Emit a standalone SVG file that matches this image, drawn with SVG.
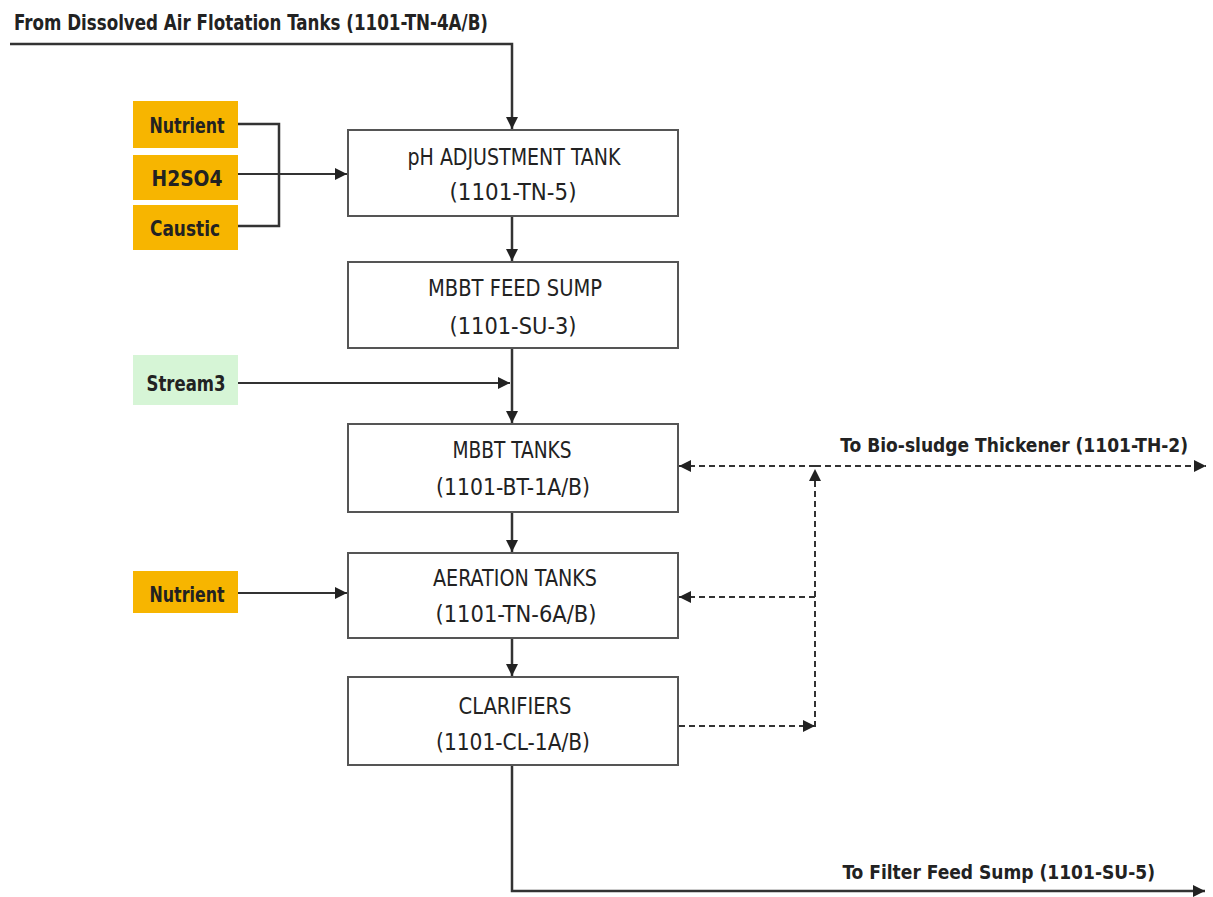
<svg xmlns="http://www.w3.org/2000/svg" width="1213" height="897" viewBox="0 0 1213 897">
<style>
text{font-family:"DejaVu Sans Condensed","DejaVu Sans","Liberation Sans",sans-serif;fill:#222;}
.t{font-size:23px;text-anchor:middle;}
.s{font-size:22px;font-weight:bold;text-anchor:middle;}
.box{fill:#fff;stroke:#555;stroke-width:2;}
.org{fill:#f7b500;}
.grn{fill:#d6f5d6;}
.ln{fill:none;stroke:#333;stroke-width:2.5;}
.thin{fill:none;stroke:#333;stroke-width:2;}
.dash{fill:none;stroke:#333;stroke-width:2;stroke-dasharray:6 4;}
.lbl{font-size:22px;font-weight:bold;}
.rl{font-size:19px;font-weight:bold;text-anchor:end;}
</style>
<defs>
<marker id="ah" viewBox="0 0 10 10" refX="10" refY="5" markerWidth="5" markerHeight="5" orient="auto" markerUnits="strokeWidth">
<path d="M0,0 L10,5 L0,10 z" fill="#222"/>
</marker>
<marker id="ahs" viewBox="0 0 10 10" refX="10" refY="5" markerWidth="6" markerHeight="6" orient="auto" markerUnits="strokeWidth">
<path d="M0,0 L10,5 L0,10 z" fill="#222"/>
</marker>
</defs>
<rect width="1213" height="897" fill="#fff"/>

<g id="title">
<text class="lbl" x="14" y="30" textLength="474" lengthAdjust="spacingAndGlyphs">From Dissolved Air Flotation Tanks (1101-TN-4A/B)</text>
</g>

<g id="connectors">
<polyline class="ln" points="10,44 512,44 512,129" marker-end="url(#ah)"/>
<polyline class="ln" points="238,124 279,124 279,226 238,226"/>
<line class="thin" x1="238" y1="174" x2="347" y2="174" marker-end="url(#ahs)"/>
<line class="ln" x1="512" y1="216" x2="512" y2="261" marker-end="url(#ah)"/>
<line class="ln" x1="512" y1="348" x2="512" y2="423" marker-end="url(#ah)"/>
<line class="thin" x1="238" y1="383" x2="510" y2="383" marker-end="url(#ahs)"/>
<line class="ln" x1="512" y1="512" x2="512" y2="552" marker-end="url(#ah)"/>
<line class="thin" x1="238" y1="593" x2="347" y2="593" marker-end="url(#ahs)"/>
<line class="ln" x1="512" y1="638" x2="512" y2="676" marker-end="url(#ah)"/>
<polyline class="ln" points="512,765 512,891 1205,891" marker-end="url(#ah)"/>
<line class="dash" x1="815" y1="466" x2="679" y2="466" marker-end="url(#ahs)"/>
<line class="dash" x1="815" y1="466" x2="1206" y2="466" marker-end="url(#ahs)"/>
<line class="dash" x1="815" y1="727" x2="815" y2="469" marker-end="url(#ahs)"/>
<line class="dash" x1="815" y1="597" x2="679" y2="597" marker-end="url(#ahs)"/>
<line class="dash" x1="679" y1="726" x2="815" y2="726" marker-end="url(#ahs)"/>
</g>

<g id="node-nutrient1">
<rect class="org" x="133" y="101" width="105" height="47"/>
<text class="s" x="187" y="133" textLength="75" lengthAdjust="spacingAndGlyphs">Nutrient</text>
</g>
<g id="node-h2so4">
<rect class="org" x="133" y="155" width="105" height="45"/>
<text class="s" x="187" y="186" textLength="71" lengthAdjust="spacingAndGlyphs">H2SO4</text>
</g>
<g id="node-caustic">
<rect class="org" x="133" y="205" width="105" height="45"/>
<text class="s" x="185" y="236" textLength="70" lengthAdjust="spacingAndGlyphs">Caustic</text>
</g>
<g id="node-stream3">
<rect class="grn" x="133" y="355" width="105" height="50"/>
<text class="s" x="186" y="391" textLength="79" lengthAdjust="spacingAndGlyphs">Stream3</text>
</g>
<g id="node-nutrient2">
<rect class="org" x="133" y="571" width="105" height="42"/>
<text class="s" x="187" y="602" textLength="75" lengthAdjust="spacingAndGlyphs">Nutrient</text>
</g>

<g id="node-ph">
<rect class="box" x="348" y="130" width="330" height="86"/>
<text class="t" x="514" y="165" textLength="213" lengthAdjust="spacingAndGlyphs">pH ADJUSTMENT TANK</text>
<text class="t" x="513" y="200" textLength="127" lengthAdjust="spacingAndGlyphs">(1101-TN-5)</text>
</g>
<g id="node-feedsump">
<rect class="box" x="348" y="262" width="330" height="86"/>
<text class="t" x="515" y="296" textLength="174" lengthAdjust="spacingAndGlyphs">MBBT FEED SUMP</text>
<text class="t" x="513" y="334" textLength="127" lengthAdjust="spacingAndGlyphs">(1101-SU-3)</text>
</g>
<g id="node-mbbt">
<rect class="box" x="348" y="424" width="330" height="88"/>
<text class="t" x="512" y="458" textLength="119" lengthAdjust="spacingAndGlyphs">MBBT TANKS</text>
<text class="t" x="513" y="495" textLength="154" lengthAdjust="spacingAndGlyphs">(1101-BT-1A/B)</text>
</g>
<g id="node-aeration">
<rect class="box" x="348" y="553" width="330" height="85"/>
<text class="t" x="515" y="586" textLength="164" lengthAdjust="spacingAndGlyphs">AERATION TANKS</text>
<text class="t" x="516" y="622" textLength="161" lengthAdjust="spacingAndGlyphs">(1101-TN-6A/B)</text>
</g>
<g id="node-clarifiers">
<rect class="box" x="348" y="677" width="330" height="88"/>
<text class="t" x="515" y="714" textLength="113" lengthAdjust="spacingAndGlyphs">CLARIFIERS</text>
<text class="t" x="513" y="750" textLength="154" lengthAdjust="spacingAndGlyphs">(1101-CL-1A/B)</text>
</g>

<g id="labels">
<text class="rl" x="1188" y="452">To Bio-sludge Thickener (1101-TH-2)</text>
<text class="rl" x="1155" y="879">To Filter Feed Sump (1101-SU-5)</text>
</g>
</svg>
